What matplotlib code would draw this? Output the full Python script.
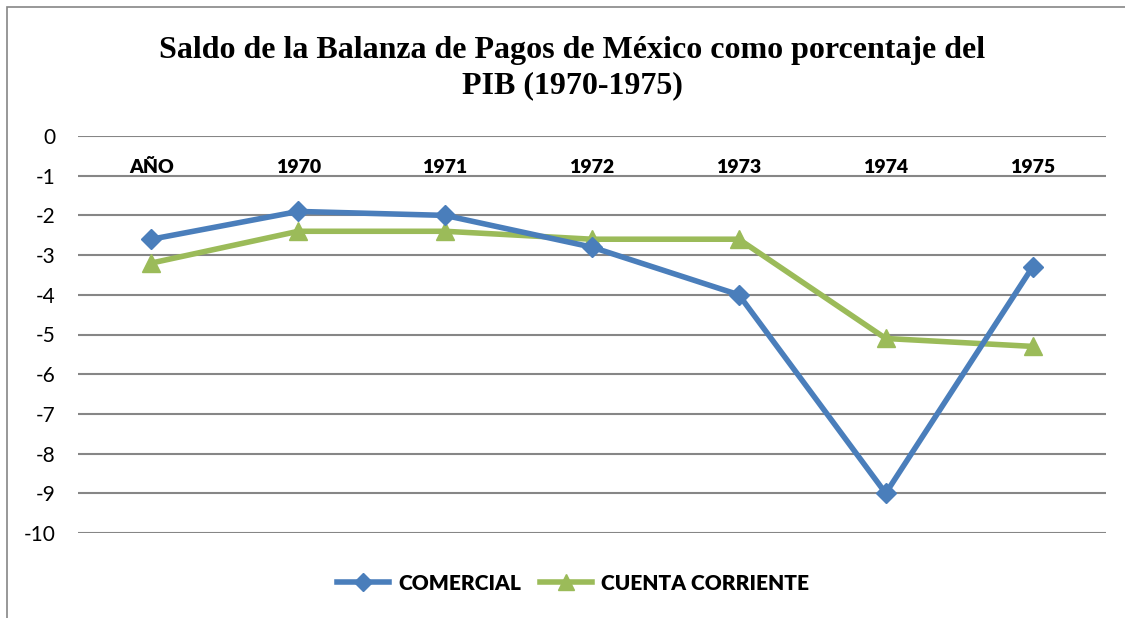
import matplotlib.pyplot as plt
from matplotlib.patches import Rectangle
from matplotlib.lines import Line2D

# Dades
categorias = ['AÑO', '1970', '1971', '1972', '1973', '1974', '1975']
comercial = [-2.6, -1.9, -2.0, -2.8, -4.0, -9.0, -3.3]
cuenta_corriente = [-3.2, -2.4, -2.4, -2.6, -2.6, -5.1, -5.3]
yticks = list(range(0, -11, -1))

azul = '#4A7EBB'
verde = '#9BBB59'
gris = '#868686'

fig = plt.figure(figsize=(11.25, 6.18), dpi=100)
ax = fig.add_axes([78 / 1125, 1 - 533 / 618, (1106 - 78) / 1125, (533 - 136) / 618])

x = list(range(len(categorias)))

# Graella horitzontal
for v in yticks:
    ax.axhline(v, color=gris, linewidth=1.5, zorder=0)

ax.plot(x, comercial, color=azul, linewidth=4, marker='D', markersize=10,
        markerfacecolor=azul, markeredgecolor=azul, zorder=3)
ax.plot(x, cuenta_corriente, color=verde, linewidth=4, marker='^', markersize=13,
        markerfacecolor=verde, markeredgecolor=verde, zorder=2)

# Etiquetes de categoria a dalt
for i, c in enumerate(categorias):
    ax.text(i, -0.8, c, ha='center', va='center', fontsize=14,
            fontweight='heavy', family='Lato')

ax.set_xlim(-0.5, len(categorias) - 0.5)
ax.set_ylim(-10, 0)
ax.set_xticks([])
ax.set_yticks(yticks)
ax.set_yticklabels([str(v) for v in yticks], fontsize=15, family='Lato')
ax.tick_params(axis='y', length=0, pad=16)
for s in ax.spines.values():
    s.set_visible(False)

# Titol
fig.text(572 / 1125, 1 - 68 / 618,
         'Saldo de la Balanza de Pagos de México como porcentaje del\nPIB (1970-1975)',
         ha='center', va='center', fontsize=23, fontweight='bold',
         family='Liberation Serif', linespacing=1.25)

# Llegenda
handles = [
    Line2D([0], [0], color=azul, linewidth=4, marker='D', markersize=9),
    Line2D([0], [0], color=verde, linewidth=4, marker='^', markersize=11),
]
fig.legend(handles, ['COMERCIAL', 'CUENTA CORRIENTE'], loc='center',
           bbox_to_anchor=(573 / 1125, 1 - 583 / 618), ncol=2, frameon=False,
           prop={'family': 'Lato', 'weight': 'heavy', 'size': 15},
           handlelength=2.5, handletextpad=0.45, columnspacing=0.9)

# Vora del grafic
fig.patches.append(Rectangle((7 / 1125, -0.1), 1.2, 1.1 - 7 / 618,
                             transform=fig.transFigure, fill=False,
                             edgecolor=gris, linewidth=1.2))

fig.savefig('out.png', dpi=100)
